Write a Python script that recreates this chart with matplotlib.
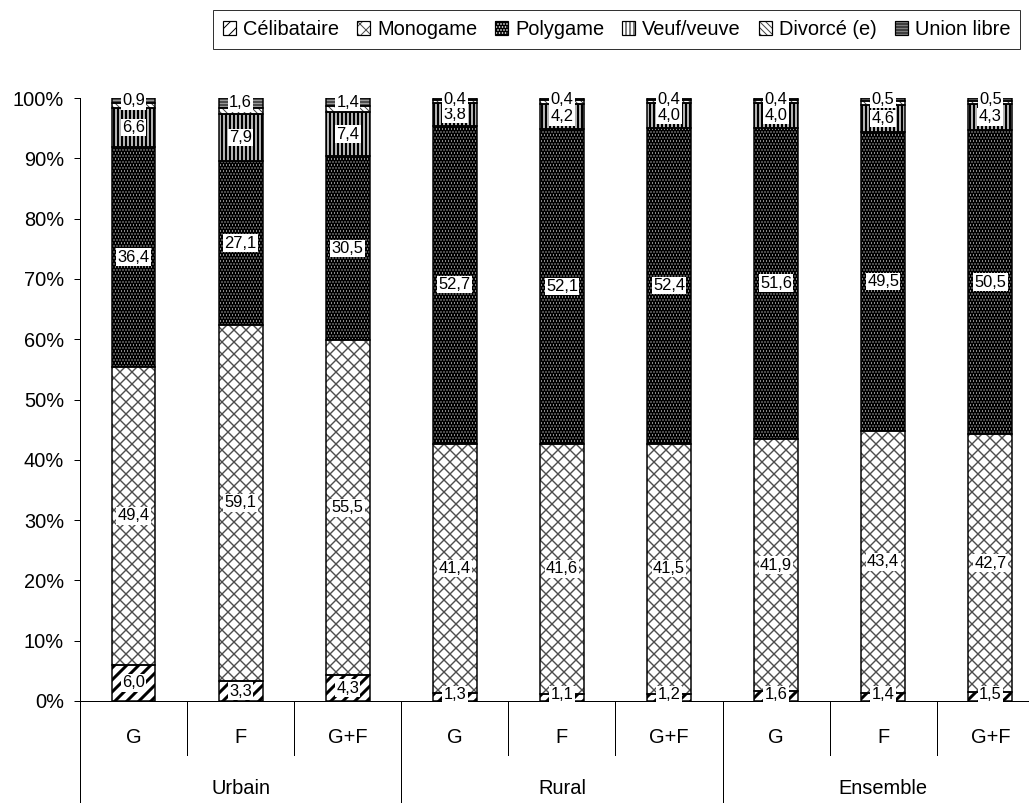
import matplotlib
matplotlib.use('Agg')
import matplotlib.pyplot as plt
import matplotlib.transforms as mtransforms
from matplotlib.patches import Patch
import numpy as np

plt.rcParams['font.family'] = ['Liberation Sans', 'DejaVu Sans']

# Data: distribution by marital status (%), per zone and sex
groups = ['Urbain', 'Rural', 'Ensemble']
sexes = ['G', 'F', 'G+F']
series_names = ['Célibataire', 'Monogame', 'Polygame', 'Veuf/veuve',
                'Divorcé (e)', 'Union libre']
celibataire = [6.0, 3.3, 4.3, 1.3, 1.1, 1.2, 1.6, 1.4, 1.5]
monogame = [49.4, 59.1, 55.5, 41.4, 41.6, 41.5, 41.9, 43.4, 42.7]
polygame = [36.4, 27.1, 30.5, 52.7, 52.1, 52.4, 51.6, 49.5, 50.5]
veuf = [6.6, 7.9, 7.4, 3.8, 4.2, 4.0, 4.0, 4.6, 4.3]
divorce = [0.7, 1.0, 0.9, 0.4, 0.6, 0.5, 0.5, 0.6, 0.5]
union_libre = [0.9, 1.6, 1.4, 0.4, 0.4, 0.4, 0.4, 0.5, 0.5]
labelled = [True, True, True, True, False, True]

series = [celibataire, monogame, polygame, veuf, divorce, union_libre]

# fill style per series: base face, hatch, hatch colour, hatch line width
styles = [
    dict(face='white', hatch='//', hc='black', hlw=3.0),
    dict(face='white', hatch='xx', hc='#4d4d4d', hlw=1.4),
    dict(face='black', hatch='....', hc='white', hlw=0.5),
    dict(face='white', hatch='|||', hc='black', hlw=2.6),
    dict(face='white', hatch='\\\\\\\\', hc='#444444', hlw=1.0),
    dict(face='white', hatch='--------', hc='black', hlw=0.9),
]

W, H, DPI = 1029, 803, 72
fig = plt.figure(figsize=(W / DPI, H / DPI), dpi=DPI)
ax = fig.add_axes([80 / W, (H - 701) / H, 963.8 / W, 603 / H])

n = len(celibataire)
x = np.arange(n)
width = 0.41


def set_hlw(artists, lw):
    for a in artists:
        if hasattr(a, 'set_hatch_linewidth'):
            a.set_hatch_linewidth(lw)


bottom = np.zeros(n)
for vals, st, lab in zip(series, styles, labelled):
    v = np.array(vals, dtype=float)
    ax.bar(x, v, width, bottom=bottom, color=st['face'], edgecolor='none',
           linewidth=0, zorder=2)
    with plt.rc_context({'hatch.linewidth': st['hlw']}):
        hb = ax.bar(x, v, width, bottom=bottom, color='none',
                    edgecolor=st['hc'], linewidth=0, hatch=st['hatch'],
                    zorder=3)
    set_hlw(hb, st['hlw'])
    ax.bar(x, v, width, bottom=bottom, color='none', edgecolor='black',
           linewidth=1.5, zorder=4)
    if lab:
        for xi, b, vi in zip(x, bottom, v):
            yc = b + vi / 2
            if b == 0:
                yc = max(yc, 1.1)
            ax.text(xi, yc, f"{vi:.1f}".replace('.', ','), ha='center',
                    va='center', fontsize=16.5, zorder=6,
                    bbox=dict(boxstyle='square,pad=0.08', fc='white',
                              ec='none'))
    bottom = bottom + v

ax.set_xlim(-0.5, n - 0.5)
ax.set_ylim(0, 100)
ax.set_yticks(np.arange(0, 101, 10))
ax.set_yticklabels([f"{t}%" for t in range(0, 101, 10)], fontsize=20)
ax.tick_params(axis='y', direction='out', length=6, width=1, pad=10)
ax.set_xticks([])
for s in ['top', 'right', 'left']:
    ax.spines[s].set_visible(False)
ax.spines['bottom'].set_linewidth(1)

trans = mtransforms.blended_transform_factory(ax.transData, ax.transAxes)
# left axis line running down through the category area
ax.plot([-0.5, -0.5], [1, -0.175], transform=trans, color='black', lw=1,
        clip_on=False, zorder=5)
for i in range(1, n):
    xs = i - 0.5
    y_end = -0.175 if i % 3 == 0 else -0.09
    ax.plot([xs, xs], [0, y_end], transform=trans, color='black', lw=1,
            clip_on=False)

for i in range(n):
    ax.text(i, -0.06, sexes[i % 3], transform=trans, ha='center',
            va='center', fontsize=20)
for g, name in enumerate(groups):
    ax.text(3 * g + 1, -0.145, name, transform=trans, ha='center',
            va='center', fontsize=20)

# legend with overlaid patches so the filled pattern matches the bars
handles = []
for st in styles:
    base = Patch(facecolor=st['face'], edgecolor='none', linewidth=0)
    with plt.rc_context({'hatch.linewidth': st['hlw']}):
        hp = Patch(facecolor='none', edgecolor=st['hc'], linewidth=0,
                   hatch=st['hatch'])
    set_hlw([hp], st['hlw'])
    outline = Patch(facecolor='none', edgecolor='black', linewidth=1.2)
    handles.append((base, hp, outline))

leg = fig.legend(handles, series_names, loc='upper left',
                 bbox_to_anchor=(213 / W, 1 - 10 / H), ncol=6, frameon=True,
                 fancybox=False, edgecolor='black', fontsize=20,
                 handlelength=0.65, handleheight=0.65, handletextpad=0.35,
                 columnspacing=0.9, borderpad=0.5, borderaxespad=0)
leg.get_frame().set_linewidth(1)

fig.savefig('out.png', dpi=DPI)
